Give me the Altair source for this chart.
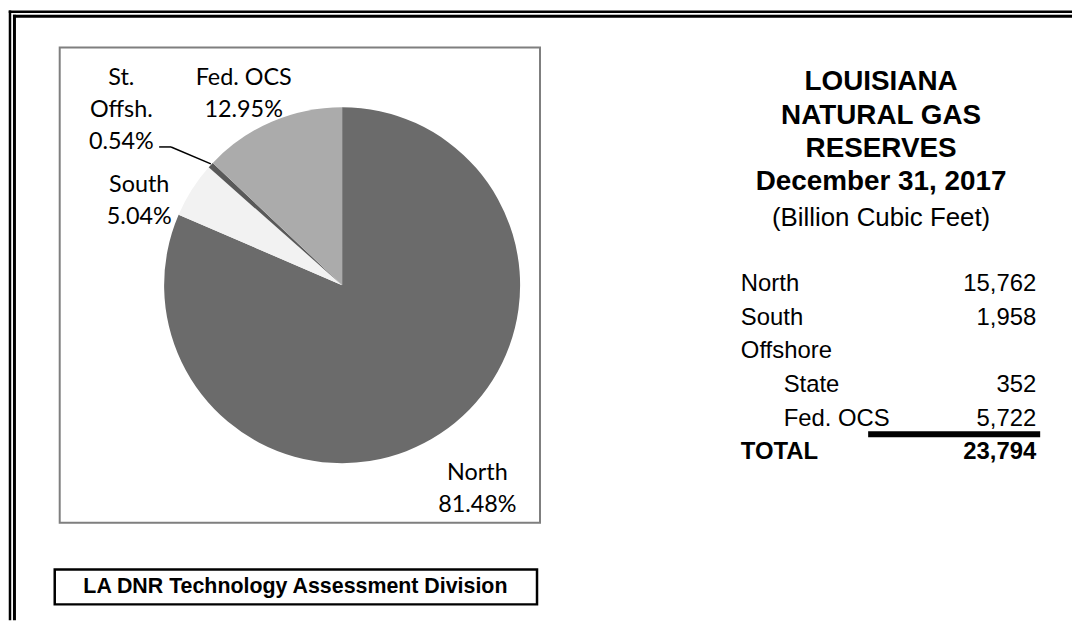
import altair as alt
import pandas as pd

# ---------------- data ----------------
slice_names = ["North", "South", "St. Offsh.", "Fed. OCS"]
slice_label_names = ["North", "South", "St.\nOffsh.", "Fed. OCS"]
slice_pcts = [81.48, 5.04, 0.54, 12.95]
slice_colors = ["#6b6b6b", "#f2f2f2", "#595959", "#ababab"]

table_labels = ["North", "South", "Offshore", "State", "Fed. OCS"]
table_values = [15762, 1958, None, 352, 5722]
table_indent = [0, 0, 0, 1, 1]
total_label = "TOTAL"

title_lines = ["LOUISIANA", "NATURAL GAS", "RESERVES", "December 31, 2017"]
subtitle = "(Billion Cubic Feet)"
footer_text = "LA DNR Technology Assessment Division"

# ---------------- layout helpers (page px -> chart px) ----------------
M = 8


def P(v):
    return v - M


W, H = 1070, 614
one = pd.DataFrame({"k": [0]})

layers = []

# outer double frame (top + left)
for pos, sw in [(10, 2.5), (14.5, 3)]:
    layers.append(alt.Chart(one).mark_rule(color="black", strokeWidth=sw).encode(
        x=alt.value(P(pos) - sw / 2), x2=alt.value(W), y=alt.value(P(pos)), y2=alt.value(P(pos))))
    layers.append(alt.Chart(one).mark_rule(color="black", strokeWidth=sw).encode(
        x=alt.value(P(pos)), x2=alt.value(P(pos)), y=alt.value(P(pos) - sw / 2), y2=alt.value(H)))

# pie chart box
layers.append(alt.Chart(one).mark_rect(fill="white", stroke="#7f7f7f", strokeWidth=2).encode(
    x=alt.value(P(60)), x2=alt.value(P(543)), y=alt.value(P(46)), y2=alt.value(P(524))))

# pie
pie_df = pd.DataFrame({"name": slice_names, "pct": slice_pcts, "ord": list(range(len(slice_names))),
                       "lab": [f"{n}\n{p:.2f}%" for n, p in zip(slice_label_names, slice_pcts)]})
layers.append(alt.Chart(pie_df).mark_arc(outerRadius=179).encode(
    theta=alt.Theta("pct:Q", stack=True),
    order=alt.Order("ord:Q"),
    color=alt.Color("name:N", scale=alt.Scale(domain=slice_names, range=slice_colors), legend=None),
    x=alt.value(P(344)), y=alt.value(P(285))))

# leader line for St. Offsh.
layers.append(alt.Chart(one).mark_rule(color="black", strokeWidth=1.5).encode(
    x=alt.value(P(160)), x2=alt.value(P(172)), y=alt.value(P(146)), y2=alt.value(P(146))))
layers.append(alt.Chart(one).mark_rule(color="black", strokeWidth=1.5).encode(
    x=alt.value(P(172)), x2=alt.value(P(212)), y=alt.value(P(146)), y2=alt.value(P(163))))

# pie labels
label_pos = {"North": (480, 462), "South": (140, 172), "St. Offsh.": (122, 65), "Fed. OCS": (245, 65)}
for name, (lx, ly) in label_pos.items():
    layers.append(alt.Chart(pie_df).transform_filter(alt.datum.name == name).mark_text(
        font="Lato", fontSize=23.5, lineBreak="\n", lineHeight=32, align="center", baseline="top",
        color="black").encode(text="lab:N", x=alt.value(P(lx)), y=alt.value(P(ly))))

# title block
title_df = pd.DataFrame({"t": ["\n".join(title_lines)], "s": [subtitle]})
layers.append(alt.Chart(title_df).mark_text(
    font="Liberation Sans", fontSize=28, fontWeight="bold", lineBreak="\n", lineHeight=33.5,
    align="center", baseline="top", color="black").encode(
    text="t:N", x=alt.value(P(886)), y=alt.value(P(67))))
layers.append(alt.Chart(title_df).mark_text(
    font="Liberation Sans", fontSize=26, align="center", baseline="top", color="black").encode(
    text="s:N", x=alt.value(P(886)), y=alt.value(P(204))))

# table
total = sum(v for v in table_values if v is not None)
tbl = pd.DataFrame({"label": table_labels + [total_label],
                    "value": table_values + [total],
                    "indent": table_indent + [0],
                    "row": list(range(len(table_labels) + 1)),
                    "bold": [0] * len(table_labels) + [1]})
yrow = alt.Y("row:Q", scale=alt.Scale(domain=[0, len(table_labels)], range=[P(284), P(453)]), axis=None)
xind = alt.X("indent:Q", scale=alt.Scale(domain=[0, 1], range=[P(745), P(788)]), axis=None)
tfont = dict(font="Liberation Sans", fontSize=24, baseline="middle", color="black")
layers.append(alt.Chart(tbl).transform_filter("datum.bold == 0").mark_text(align="left", **tfont).encode(
    text="label:N", x=xind, y=yrow))
layers.append(alt.Chart(tbl).transform_filter("datum.bold == 0 && isValid(datum.value)").mark_text(
    align="right", **tfont).encode(
    text=alt.Text("value:Q", format=","), x=alt.value(P(1042)), y=yrow))
layers.append(alt.Chart(tbl).transform_filter("datum.bold == 1").mark_text(
    align="left", fontWeight="bold", **tfont).encode(text="label:N", x=xind, y=yrow))
layers.append(alt.Chart(tbl).transform_filter("datum.bold == 1").mark_text(
    align="right", fontWeight="bold", **tfont).encode(
    text=alt.Text("value:Q", format=","), x=alt.value(P(1042)), y=yrow))

# underline above total
layers.append(alt.Chart(one).mark_rule(color="black", strokeWidth=6).encode(
    x=alt.value(P(873)), x2=alt.value(P(1046)), y=alt.value(P(435)), y2=alt.value(P(435))))

# footer box
foot_df = pd.DataFrame({"t": [footer_text]})
layers.append(alt.Chart(one).mark_rect(fill="white", stroke="black", strokeWidth=2.5).encode(
    x=alt.value(P(55)), x2=alt.value(P(540)), y=alt.value(P(571)), y2=alt.value(P(606))))
layers.append(alt.Chart(foot_df).mark_text(
    font="Liberation Sans", fontSize=21.5, fontWeight="bold", align="center", baseline="middle",
    color="black").encode(text="t:N", x=alt.value(P(297)), y=alt.value(P(589))))

chart = alt.layer(*layers).properties(
    width=W, height=H, padding=0, autosize=alt.AutoSizeParams(type="none"), background="white"
).configure_view(stroke=None)

chart.save("out.html", embed_options={"renderer": "svg", "actions": False})
